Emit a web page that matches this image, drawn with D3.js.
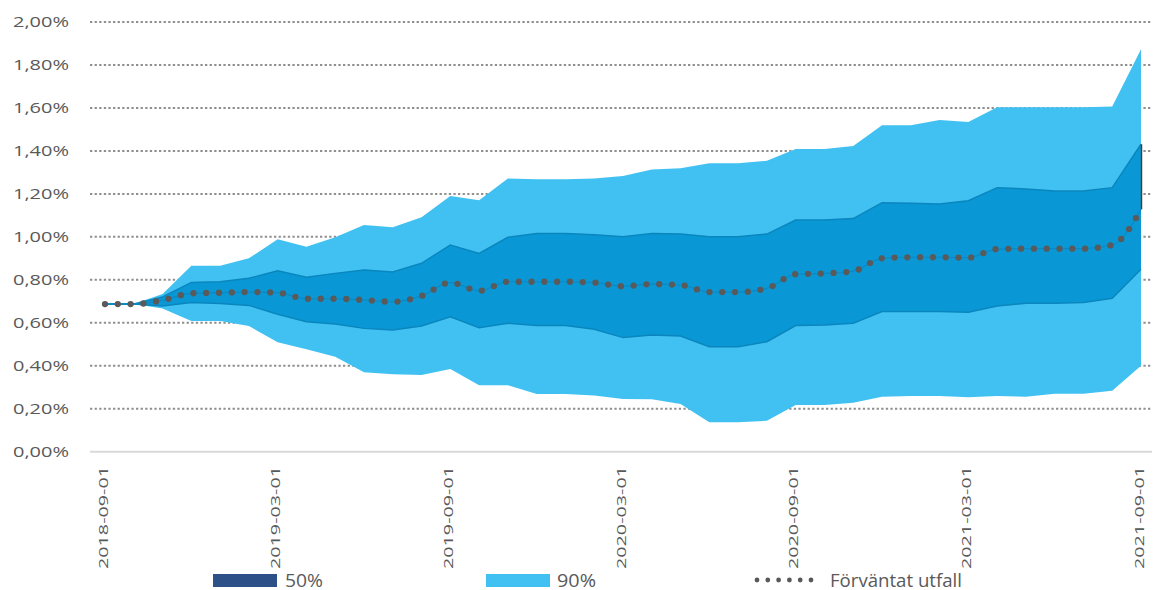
<!DOCTYPE html>
<html>
<head>
<meta charset="utf-8">
<script src="https://cdn.jsdelivr.net/npm/d3@7"></script>
<style>
  body { margin: 0; background: #fff; }
  svg text { font-family: "Open Sans", sans-serif; fill: #595959; }
</style>
</head>
<body>
<svg id="chart" width="1154" height="590"></svg>
<script>
// monthly dates, 2018-09 .. 2021-09
var months = d3.timeMonths(new Date(2018, 8, 1), new Date(2021, 9, 1)).map(d3.timeFormat("%Y-%m-%d"));
var tickLabels = ["2018-09-01", "2019-03-01", "2019-09-01", "2020-03-01", "2020-09-01", "2021-03-01", "2021-09-01"];
var yTicks = [0, 0.002, 0.004, 0.006, 0.008, 0.010, 0.012, 0.014, 0.016, 0.018, 0.020];

// values in percent
var upper90 = [0.687, 0.687, 0.734, 0.866, 0.866, 0.900, 0.989, 0.954, 0.998, 1.055, 1.045, 1.091, 1.190, 1.170, 1.272, 1.268, 1.268, 1.272, 1.283, 1.314, 1.319, 1.342, 1.342, 1.354, 1.409, 1.409, 1.423, 1.520, 1.520, 1.544, 1.535, 1.603, 1.603, 1.603, 1.603, 1.607, 1.873];
var lower90 = [0.687, 0.687, 0.667, 0.608, 0.608, 0.585, 0.509, 0.477, 0.442, 0.370, 0.360, 0.357, 0.385, 0.309, 0.309, 0.269, 0.269, 0.262, 0.245, 0.244, 0.222, 0.137, 0.137, 0.144, 0.217, 0.217, 0.228, 0.256, 0.259, 0.259, 0.253, 0.259, 0.256, 0.270, 0.270, 0.284, 0.400];
var upper50 = [0.687, 0.687, 0.720, 0.788, 0.791, 0.807, 0.842, 0.812, 0.830, 0.846, 0.836, 0.877, 0.962, 0.923, 0.998, 1.016, 1.016, 1.010, 1.001, 1.016, 1.013, 1.001, 1.001, 1.013, 1.078, 1.078, 1.085, 1.159, 1.156, 1.153, 1.168, 1.229, 1.223, 1.213, 1.213, 1.229, 1.431];
var lower50 = [0.687, 0.687, 0.678, 0.694, 0.690, 0.681, 0.640, 0.605, 0.594, 0.574, 0.566, 0.585, 0.628, 0.577, 0.598, 0.587, 0.587, 0.570, 0.531, 0.543, 0.538, 0.489, 0.489, 0.512, 0.587, 0.590, 0.598, 0.652, 0.652, 0.652, 0.649, 0.678, 0.691, 0.691, 0.694, 0.714, 0.849];
var expected = [0.687, 0.687, 0.705, 0.737, 0.740, 0.743, 0.740, 0.712, 0.712, 0.706, 0.698, 0.725, 0.787, 0.749, 0.791, 0.791, 0.791, 0.787, 0.770, 0.780, 0.776, 0.743, 0.743, 0.760, 0.826, 0.830, 0.840, 0.900, 0.905, 0.905, 0.903, 0.943, 0.945, 0.945, 0.945, 0.962, 1.128];
var history = [0.687, 0.687];

var svg = d3.select("#chart");
var data = months.map(function(m, i) {
  return { m: m, u90: upper90[i] / 100, l90: lower90[i] / 100, u50: upper50[i] / 100, l50: lower50[i] / 100, e: expected[i] / 100 };
});

var x = d3.scalePoint().domain(months).range([105, 1141]);
var y = d3.scaleLinear().domain([0, 0.02]).range([451.7, 22]);

var sv = d3.formatLocale({ decimal: ",", thousands: " ", grouping: [3], currency: ["", " kr"], percent: "%" });
var pct = sv.format(".2%");

// gridlines
svg.append("g")
  .selectAll("line")
  .data(yTicks.filter(function(t) { return t > 0; }))
  .enter().append("line")
  .attr("x1", 90).attr("x2", 1152)
  .attr("y1", function(d) { return y(d); })
  .attr("y2", function(d) { return y(d); })
  .attr("stroke", "#8f8f8f")
  .attr("stroke-width", 2)
  .attr("stroke-dasharray", "2.3 2.3");

// y labels
svg.append("g")
  .selectAll("text")
  .data(yTicks)
  .enter().append("text")
  .attr("x", 69)
  .attr("y", function(d) { return y(d); })
  .attr("dy", "0.36em")
  .attr("text-anchor", "end")
  .attr("textLength", 56)
  .attr("lengthAdjust", "spacingAndGlyphs")
  .style("font-size", "15px")
  .text(function(d) { return pct(d); });

// bands
var area90 = d3.area()
  .x(function(d) { return x(d.m); })
  .y0(function(d) { return y(d.l90); })
  .y1(function(d) { return y(d.u90); });
var area50 = d3.area()
  .x(function(d) { return x(d.m); })
  .y0(function(d) { return y(d.l50); })
  .y1(function(d) { return y(d.u50); });

svg.append("path").datum(data).attr("d", area90).attr("fill", "#41c1f1");
svg.append("path").datum(data).attr("d", area50).attr("fill", "#0998d5");

var edge = function(key) {
  return d3.line().x(function(d) { return x(d.m); }).y(function(d) { return y(d[key]); });
};
svg.append("path").datum(data).attr("d", edge("u50")).attr("fill", "none").attr("stroke", "#0a86be").attr("stroke-width", 1.5);
svg.append("path").datum(data).attr("d", edge("l50")).attr("fill", "none").attr("stroke", "#0a86be").attr("stroke-width", 1.5);

// x axis line
svg.append("line")
  .attr("x1", 90).attr("x2", 1152)
  .attr("y1", y(0)).attr("y2", y(0))
  .attr("stroke", "#d9d9d9").attr("stroke-width", 2);

// history line
svg.append("path")
  .datum(history)
  .attr("d", d3.line().x(function(d, i) { return x(months[i]); }).y(function(d) { return y(d / 100); }))
  .attr("stroke", "#000").attr("stroke-width", 2.5).attr("fill", "none");

// right edge marker
var last = data[data.length - 1];
svg.append("line")
  .attr("x1", x(last.m) + 0.5).attr("x2", x(last.m) + 0.5)
  .attr("y1", y(last.u50)).attr("y2", y(last.e))
  .attr("stroke", "#404040").attr("stroke-width", 1.5);

// expected line
var eLine = d3.line().curve(d3.curveMonotoneX)
  .x(function(d) { return x(d.m); })
  .y(function(d) { return y(d.e); });
svg.append("path").datum(data).attr("d", eLine)
  .attr("fill", "none").attr("stroke", "#0a88c5").attr("stroke-width", 1.2);
svg.append("path").datum(data).attr("d", eLine)
  .attr("fill", "none").attr("stroke", "#5a5a5a").attr("stroke-width", 6.3)
  .attr("stroke-linecap", "round").attr("stroke-dasharray", "0 12.8");

// x labels
svg.append("g")
  .selectAll("text")
  .data(tickLabels)
  .enter().append("text")
  .attr("transform", function(d) { return "translate(" + (x(d) + 2.5) + ",466) rotate(-90)"; })
  .attr("text-anchor", "end")
  .attr("textLength", 103)
  .attr("lengthAdjust", "spacingAndGlyphs")
  .style("font-size", "13.5px")
  .text(function(d) { return d; });

// legend
var legend = svg.append("g");
legend.append("rect").attr("x", 213).attr("y", 574).attr("width", 64).attr("height", 13).attr("fill", "#2e5088");
legend.append("text").attr("x", 285).attr("y", 586.5).attr("textLength", 38).attr("lengthAdjust", "spacingAndGlyphs")
  .style("font-size", "18px").text("50%");
legend.append("rect").attr("x", 486).attr("y", 574).attr("width", 64).attr("height", 13).attr("fill", "#41c1f1");
legend.append("text").attr("x", 557).attr("y", 586.5).attr("textLength", 39).attr("lengthAdjust", "spacingAndGlyphs")
  .style("font-size", "18px").text("90%");
legend.append("line").attr("x1", 757).attr("x2", 812).attr("y1", 580).attr("y2", 580)
  .attr("stroke", "#595959").attr("stroke-width", 4.8).attr("stroke-linecap", "round").attr("stroke-dasharray", "0 10.8");
legend.append("text").attr("x", 830).attr("y", 586.5).attr("textLength", 132).attr("lengthAdjust", "spacingAndGlyphs")
  .style("font-size", "18px").text("Förväntat utfall");
</script>
</body>
</html>
